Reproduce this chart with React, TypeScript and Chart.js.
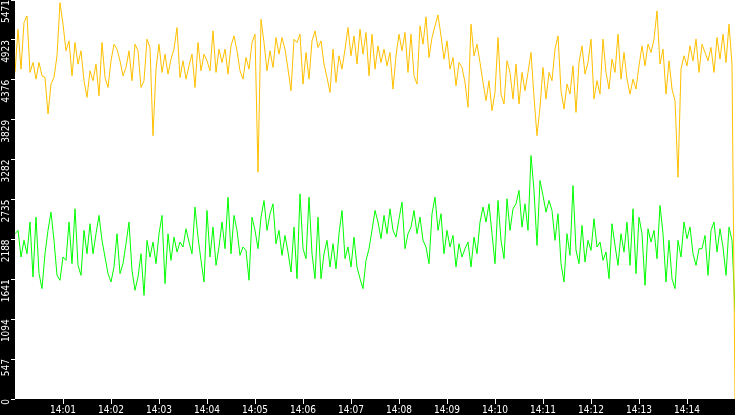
import React, { useEffect, useRef } from "react";
import { Chart, registerables } from "chart.js";

Chart.register(...registerables);

// one sample every 3.75 s from 14:00:00 to 14:15:00
const SAMPLE_SEC = 3.75;

const timeLabels = ["14:01", "14:02", "14:03", "14:04", "14:05", "14:06", "14:07", "14:08", "14:09", "14:10", "14:11", "14:12", "14:13", "14:14"];
const yTickLabels = ["0", "547", "1094", "1641", "2188", "2735", "3282", "3829", "4376", "4923", "5471"];

const yellowSeries = [
  4478, 5070, 4523, 5162, 5253, 4478, 4614, 4386, 4614, 4432,
  4409, 3908, 4318, 4409, 4706, 5435, 5139, 4774, 4911, 4432,
  4888, 4592, 4774, 4364, 4136, 4500, 4364, 4592, 4158, 4888,
  4409, 4272, 4637, 4865, 4797, 4637, 4432, 4546, 4774, 4364,
  4865, 4774, 4272, 4364, 4934, 4820, 3611, 4523, 4865, 4478,
  4728, 4455, 4660, 4797, 5093, 4409, 4637, 4386, 4569, 4728,
  4272, 4888, 4500, 4728, 4637, 4500, 5048, 4478, 4797, 4614,
  4797, 4455, 4842, 4979, 4774, 4500, 4386, 4683, 4523, 4888,
  5002, 3110, 5207, 4888, 4500, 4774, 4546, 4956, 4728, 4956,
  4797, 4523, 4227, 4934, 4888, 5002, 4318, 4751, 4386, 4911,
  5048, 4820, 4911, 4592, 4409, 4204, 4797, 4341, 4706, 4523,
  4797, 5093, 4706, 4979, 4592, 5070, 4728, 5025, 4432, 5002,
  4523, 4842, 4614, 4797, 4569, 4751, 4250, 4706, 5002, 4774,
  5025, 4478, 5002, 4432, 4318, 5116, 4865, 5239, 4683, 4956,
  5116, 5266, 4979, 4660, 4911, 4523, 4683, 4295, 4614, 4546,
  4341, 3999, 5139, 4706, 4865, 4614, 4341, 4090, 4364, 3953,
  4204, 4956, 4181, 4044, 4637, 4478, 4113, 4592, 4044, 4478,
  4227, 4478, 4751, 4136, 3611, 3999, 4546, 4113, 4478, 4364,
  4797, 4979, 4227, 3976, 4318, 4181, 4569, 3930, 4614, 4842,
  4455, 4614, 4934, 4113, 4364, 4181, 4934, 4478, 4250, 4660,
  4478, 5002, 4386, 4751, 4386, 4181, 4386, 4250, 4569, 4842,
  4569, 4865, 4751, 4934, 5321, 4592, 4797, 4181, 4637, 4250,
  4090, 3041, 4523, 4706, 4569, 4842, 4637, 4934, 4478, 4865,
  4751, 4637, 4820, 4478, 4956, 4660, 5002, 4614, 5139, 4592,
  0,
];

const greenSeries = [
  2266, 2312, 1947, 2175, 1992, 2426, 1673, 2494, 1719, 1514,
  1992, 2312, 2562, 2175, 1696, 1628, 1947, 1901, 2426, 1856,
  2608, 1833, 1696, 2312, 1992, 2403, 1992, 2266, 2517, 2175,
  1947, 1719, 1605, 1810, 2266, 1719, 1856, 2129, 2426, 1764,
  1491, 1673, 1992, 1422, 2175, 1947, 2152, 1856, 2266, 2517,
  1582, 2266, 1901, 2220, 2015, 2152, 2084, 2334, 2152, 1992,
  2631, 2220, 1901, 1605, 2585, 1947, 2357, 1833, 2084, 2426,
  2061, 2768, 1992, 2517, 2312, 1970, 2084, 2038, 1628, 2494,
  2312, 2061, 2494, 2722, 2312, 2540, 2676, 2129, 2312, 1970,
  2243, 2015, 1742, 2357, 1650, 2813, 2061, 1924, 2768, 1992,
  1650, 2494, 1650, 1992, 2175, 1810, 2129, 1787, 2266, 2585,
  1924, 2084, 1810, 2220, 1810, 1650, 1514, 1901, 2061, 2312,
  2585, 2426, 2198, 2517, 2266, 2608, 2312, 2220, 2471, 2699,
  2061, 2266, 2357, 2585, 2266, 2494, 2175, 2084, 1856, 2540,
  2768, 2312, 2540, 1992, 2312, 2084, 2243, 1810, 2129, 1947,
  2061, 2152, 1810, 2220, 1992, 2426, 2631, 2426, 2676, 2266,
  1856, 2722, 2175, 1924, 2745, 2312, 2608, 2676, 2859, 2357,
  2676, 2312, 3338, 2859, 2106, 2996, 2790, 2562, 2722, 2585,
  2175, 2540, 1856, 1605, 2266, 1970, 2927, 2038, 1856, 2380,
  1878, 2175, 2038, 2471, 2084, 2152, 1901, 2015, 1650, 2403,
  2106, 1833, 2266, 2015, 2426, 1833, 2608, 1719, 2494, 2266,
  1559, 2334, 2152, 2312, 1924, 2654, 2266, 1605, 2175, 1650,
  1514, 2175, 1947, 2426, 2198, 2357, 1992, 1833, 2061, 2061,
  2243, 1696, 2312, 2426, 2015, 2334, 2084, 1696, 2357, 2175,
  1217,
];

const tickFont = { family: "'DejaVu Sans Condensed', 'DejaVu Sans Mono', monospace", size: 10 };

// black frame around a white plot area
const framePlugin = {
  id: "frame",
  beforeDraw(chart: any) {
    const { ctx, chartArea: a, width, height } = chart;
    ctx.save();
    ctx.fillStyle = "#000";
    ctx.fillRect(0, 0, width, height);
    ctx.fillStyle = "#fff";
    ctx.fillRect(a.left, a.top, a.right - a.left, a.bottom - a.top);
    ctx.restore();
  },
};

const App: React.FC = () => {
  const canvasRef = useRef<HTMLCanvasElement | null>(null);
  const chartRef = useRef<any>(null);

  useEffect(() => {
    if (!canvasRef.current) return;
    const ctx = canvasRef.current.getContext("2d");
    if (!ctx) return;

    if (chartRef.current) chartRef.current.destroy();

    chartRef.current = new Chart(ctx, {
      type: "line",
      data: {
        datasets: [
          {
            label: "series A",
            data: yellowSeries.map((v, i) => ({ x: i * SAMPLE_SEC, y: v })),
            borderColor: "#ffc000",
            borderWidth: 1,
            pointRadius: 0,
            tension: 0,
          },
          {
            label: "series B",
            data: greenSeries.map((v, i) => ({ x: i * SAMPLE_SEC, y: v })),
            borderColor: "#00ff00",
            borderWidth: 1,
            pointRadius: 0,
            tension: 0,
          },
        ],
      },
      options: {
        animation: false,
        responsive: true,
        maintainAspectRatio: false,
        layout: { padding: 0 },
        plugins: {
          legend: { display: false },
          tooltip: { enabled: false },
        },
        scales: {
          x: {
            type: "linear",
            min: 0,
            max: 900,
            afterBuildTicks: (scale: any) => {
              scale.ticks = timeLabels.map((_, i) => ({ value: (i + 1) * 60 }));
            },
            afterFit: (scale: any) => {
              scale.height = 16;
              scale.paddingLeft = 0;
              scale.paddingRight = 0;
            },
            ticks: {
              color: "#fff",
              font: tickFont,
              padding: 0,
              autoSkip: false,
              maxRotation: 0,
              minRotation: 0,
              callback: (v: any) => timeLabels[Math.round(v / 60) - 1],
            },
            grid: { color: "#fff", drawOnChartArea: false, tickLength: 5 },
            border: { display: false },
          },
          y: {
            min: 0,
            max: 5471,
            afterBuildTicks: (scale: any) => {
              scale.ticks = yTickLabels.map((l) => ({ value: Number(l) }));
            },
            afterFit: (scale: any) => {
              scale.width = 15;
              scale.paddingTop = 0;
              scale.paddingBottom = 0;
            },
            ticks: {
              color: "#fff",
              font: tickFont,
              padding: 5,
              autoSkip: false,
              minRotation: 90,
              maxRotation: 90,
              callback: (v: any) => String(v),
            },
            grid: { color: "#fff", drawOnChartArea: false, tickLength: 4 },
            border: { display: false },
          },
        },
      },
      plugins: [framePlugin],
    });

    return () => {
      chartRef.current?.destroy();
    };
  }, []);

  return (
    <div style={{ position: "fixed", left: 0, top: 0, width: 735, height: 415 }}>
      <canvas ref={canvasRef}></canvas>
    </div>
  );
};

export default App;
